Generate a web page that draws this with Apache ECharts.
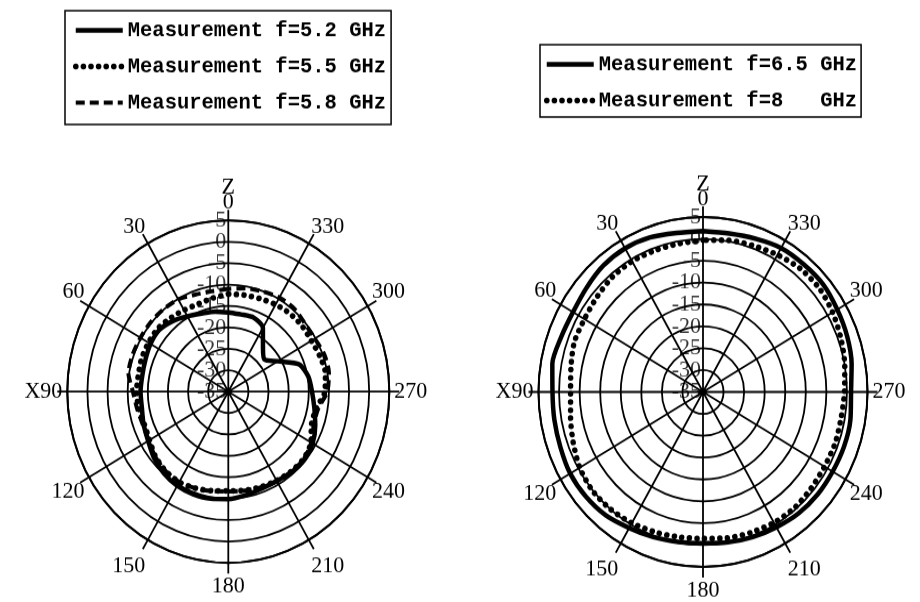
<!DOCTYPE html>
<html>
<head>
<meta charset="utf-8">
<script src="https://cdn.jsdelivr.net/npm/echarts@6/dist/echarts.min.js"></script>
<style>
html, body { margin: 0; padding: 0; background: #fff; overflow: hidden; }
#chart { position: absolute; left: 0; top: 0; width: 920px; height: 566px;
         transform: scaleY(1.0636); transform-origin: 0 0; }
</style>
</head>
<body>
<div id="chart"></div>
<script>
// Measured radiation patterns (dB) sampled every 10 degrees.
const angles = [0, 10, 20, 30, 40, 50, 60, 70, 80, 90, 100, 110, 120, 130, 140, 150, 160, 170,
                180, 190, 200, 210, 220, 230, 240, 250, 260, 270, 280, 290, 300, 310, 320, 330, 340, 350];

const gain52 = [-16.5, -16.0, -15.6, -14.7, -13.5, -12.6, -12.7, -13.1, -13.3, -13.2, -13.2, -12.6,
                -12.0, -10.9, -10.1, -9.6, -9.5, -9.6, -9.9, -10.4, -10.9, -10.9, -10.5, -10.3,
                -10.8, -12.0, -13.3, -14.2, -14.8, -16.3, -20.8, -23.3, -21.6, -17.8, -16.6, -16.7];
const gain55 = [-12.2, -12.8, -13.2, -13.0, -12.6, -12.1, -12.1, -12.1, -12.3, -12.2, -12.4, -12.8,
                -12.4, -11.4, -10.8, -10.6, -11.0, -11.5, -11.8, -11.6, -11.3, -11.0, -10.7, -10.6,
                -11.3, -13.0, -12.8, -11.0, -10.5, -10.8, -11.2, -11.1, -11.2, -11.5, -11.9, -12.1];
const gain58 = [-11.0, -11.2, -10.9, -10.1, -9.9, -9.8, -9.8, -9.7, -9.8, -11.3, -12.0, -12.4,
                -12.2, -11.3, -10.8, -10.6, -11.0, -11.4, -11.7, -11.5, -11.2, -10.9, -10.6, -10.5,
                -11.2, -12.4, -12.3, -10.4, -9.6, -9.6, -10.2, -10.2, -9.6, -9.6, -10.1, -10.5];
const gain65 = [1.8, 1.9, 2.6, 2.9, 2.7, 2.0, 1.5, 1.7, 2.2, 1.6, 1.7, 1.9,
                2.3, 2.2, 1.8, 0.9, 0.3, -0.2, -0.4, -0.1, 0.3, 0.7, 1.2, 1.4,
                1.4, 1.5, 1.4, 1.0, 1.7, 2.3, 2.7, 3.2, 3.1, 3.0, 2.3, 1.8];
const gain80 = [-0.3, -0.6, -0.6, -0.5, -0.7, -1.3, -1.7, -1.7, -2.4, -2.8, -2.3, -1.4,
                -0.4, 0.1, 0.0, -0.4, -0.9, -1.3, -1.5, -1.1, -0.8, -0.5, -0.4, -0.7,
                -0.9, -0.8, -0.9, -0.6, 0.0, 0.7, 1.4, 1.9, 1.8, 1.2, 0.6, 0.2];

const namesLeft = ['Measurement f=5.2 GHz', 'Measurement f=5.5 GHz', 'Measurement f=5.8 GHz'];
const namesRight = ['Measurement f=6.5 GHz', 'Measurement f=8   GHz'];

// dB ring values, written up the 0-degree spoke
const radiusTicks = [5, 0, -5, -10, -15, -20, -25, -30, -35];
const rMin = -35, rMax = 5, rStep = 5;

// [radius, angle] pairs, closed back onto the first sample
function loop(vals) {
  const d = angles.map((a, i) => [vals[i], a]);
  d.push([vals[0], 360]);
  return d;
}

const ink = '#000';
const serif = 'Liberation Serif';
const tickFont = { color: ink, fontFamily: serif, fontSize: 22 };

// angle labels: "Z" over the 0 spoke, "X" before 90; the bottom ones sit a little lower
function angleLabel(v) {
  if (v === 360) return '';
  if (v === 0) return '{z|Z}\n{zb|0}';
  if (v === 90) return 'X90';
  if (v === 180) return '{d1|180}';
  if (v === 150 || v === 210) return '{d2|' + v + '}';
  return String(v);
}

function angleAxis(idx) {
  return {
    polarIndex: idx, type: 'value', min: 0, max: 360, interval: 30,
    startAngle: 90, clockwise: false,
    axisLine: { show: true, lineStyle: { color: ink, width: 2 } },
    axisTick: { show: true, inside: false, length: 10, lineStyle: { color: ink, width: 1.8 } },
    splitLine: { show: true, lineStyle: { color: ink, width: 1.8 } },
    axisLabel: {
      ...tickFont, margin: 5, formatter: angleLabel,
      rich: {
        z: { ...tickFont, lineHeight: 17 },
        zb: { ...tickFont, lineHeight: 17, padding: [0, 0, 6, 0] },
        d1: { ...tickFont, padding: [6, 0, 0, 0] },
        d2: { ...tickFont, padding: [9, 0, 0, 0] }
      }
    }
  };
}
function radiusAxis(idx) {
  return {
    polarIndex: idx, type: 'value', min: rMin, max: rMax, interval: rStep, angle: 90,
    axisLine: { show: false },
    axisTick: { show: false },
    splitLine: { show: true, lineStyle: { color: ink, width: 1.8 } },
    axisLabel: { show: false }
  };
}

// ring labels placed on the polar scale at angle 0, text to the left of the spoke
function ringLabels(polarIndex) {
  return {
    type: 'scatter', coordinateSystem: 'polar', polarIndex,
    data: radiusTicks.map(r => [r, 0]), symbolSize: 0, silent: true, z: 3,
    label: {
      show: true, position: 'left', distance: 2, ...tickFont,
      formatter: p => String(p.value[0])
    }
  };
}

const solid = { color: ink, width: 4.5 };
const dotted = { color: ink, width: 5.5, type: [0.1, 7.5], cap: 'round' };
const dashed = { color: ink, width: 4, type: [9, 5] };

function series(name, polarIndex, vals, lineStyle) {
  return {
    name, type: 'line', coordinateSystem: 'polar', polarIndex,
    data: loop(vals), symbol: 'none', smooth: 0.25, lineStyle, color: ink,
    silent: true, animation: false
  };
}

function legend(names, styles, left, top, padding) {
  return {
    data: names.map((n, i) => ({ name: n, lineStyle: styles[i], itemStyle: { opacity: 0 } })),
    orient: 'vertical', left, top, padding,
    itemWidth: 47, itemHeight: 14, itemGap: 13,
    borderColor: ink, borderWidth: 1.5, selectedMode: false,
    textStyle: { color: ink, fontFamily: 'Liberation Mono', fontWeight: 'bold', fontSize: 20.5 }
  };
}

const chart = echarts.init(document.getElementById('chart'), null, { renderer: 'canvas' });
chart.setOption({
  backgroundColor: '#fff',
  animation: false,
  polar: [
    { center: [228.3, 368.2], radius: 161 },
    { center: [703, 368.5], radius: 164.5 }
  ],
  angleAxis: [angleAxis(0), angleAxis(1)],
  radiusAxis: [radiusAxis(0), radiusAxis(1)],
  legend: [
    legend(namesLeft, [solid, dotted, dashed], 65, 10, [8, 5, 10, 8]),
    legend(namesRight, [solid, dotted], 540, 42, [8, 4, 5, 4])
  ],
  series: [
    ringLabels(0),
    ringLabels(1),
    series(namesLeft[0], 0, gain52, solid),
    series(namesLeft[1], 0, gain55, dotted),
    series(namesLeft[2], 0, gain58, dashed),
    series(namesRight[0], 1, gain65, solid),
    series(namesRight[1], 1, gain80, dotted)
  ]
});
</script>
</body>
</html>
